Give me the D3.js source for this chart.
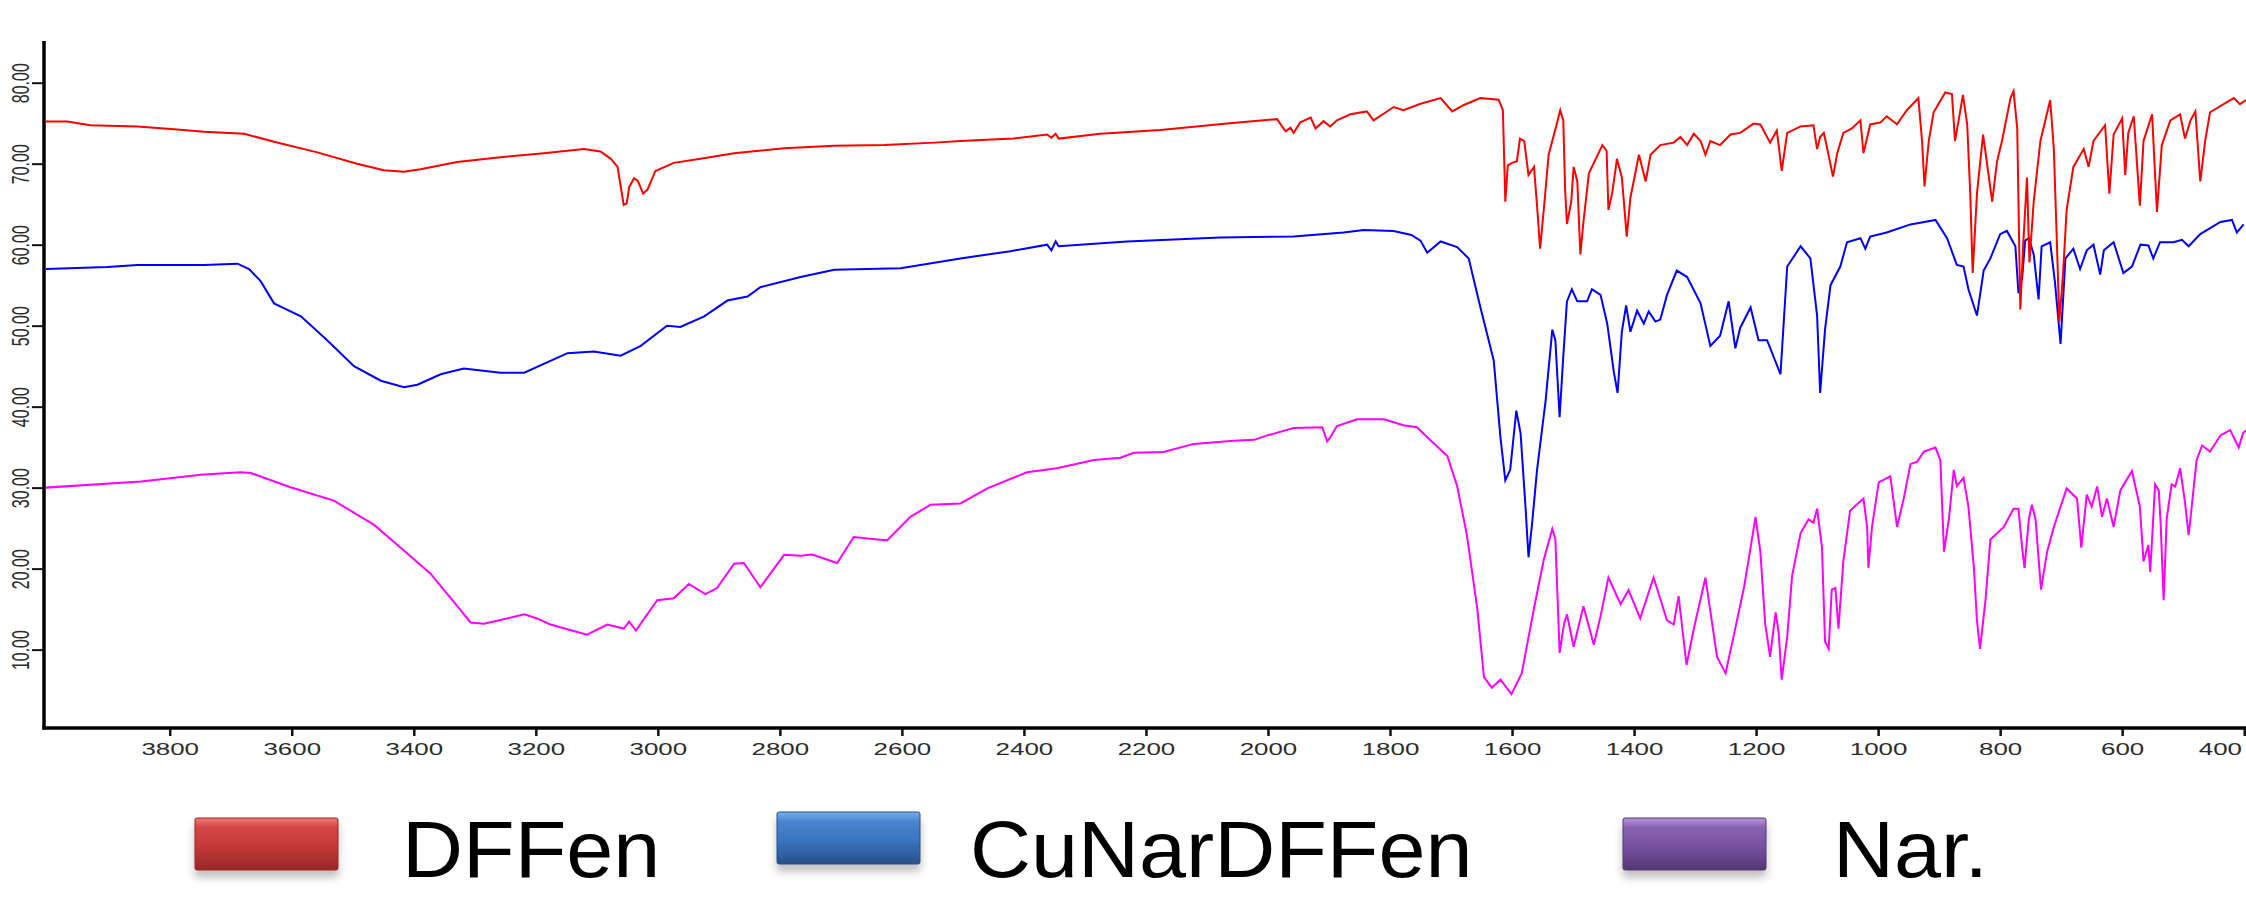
<!DOCTYPE html>
<html>
<head>
<meta charset="utf-8">
<script src="https://cdn.jsdelivr.net/npm/d3@7"></script>
<style>
  body { margin: 0; background: #fff; }
  svg { display: block; font-family: "Liberation Sans", Arial, sans-serif; }
</style>
</head>
<body>
<svg id="chart"></svg>
<script>
// series names + legend colours
var names = ["DFFen", "CuNarDFFen", "Nar."];
var lineColors = ["#ff0000", "#0000ff", "#ff00ff"];

var xTicks = [3800, 3600, 3400, 3200, 3000, 2800, 2600, 2400, 2200, 2000, 1800, 1600, 1400, 1200, 1000, 800, 600, 400];
var yTicks = [10, 20, 30, 40, 50, 60, 70, 80];

// DFFen (red)
var dffenWn = [4003,3968,3930,3853,3793,3744,3678,3629,3558,3493,3449,3416,3389,3329,3258,3187,3121,3094,3077,3066,3060,3056,3051,3047,3039,3033,3024,3017,3004,2974,2930,2875,2793,2711,2629,2547,2504,2417,2362,2355,2348,2343,2275,2176,2067,1985,1977,1971,1963,1958,1947,1930,1922,1909,1898,1887,1865,1838,1827,1810,1794,1778,1750,1717,1698,1679,1652,1622,1615,1611,1607,1600,1592,1587,1580,1573,1564,1559,1554,1548,1540,1526,1521,1516,1513,1510,1503,1499,1493,1488,1483,1474,1452,1445,1442,1436,1428,1420,1412,1406,1392,1381,1373,1357,1335,1324,1313,1302,1291,1283,1275,1259,1242,1226,1204,1193,1177,1166,1158,1149,1127,1106,1100,1095,1089,1084,1074,1067,1057,1043,1029,1024,1013,996,986,969,953,934,928,924,917,909,890,879,874,868,861,854,849,845,838,828,822,813,805,797,783,778,772,767,762,756,752,745,734,718,712,707,703,697,691,680,663,655,647,628,621,614,600,595,590,581,571,565,551,543,535,521,505,497,488,480,472,464,456,417,407,397];
var dffenT = [75.2,75.2,74.75,74.6,74.25,73.95,73.7,72.7,71.4,70.0,69.2,69.0,69.3,70.2,70.8,71.3,71.8,71.5,70.6,69.6,66.8,64.9,65.1,67.1,68.2,67.9,66.3,66.8,69.1,70.1,70.6,71.3,71.9,72.2,72.3,72.6,72.8,73.1,73.6,73.2,73.7,73.1,73.7,74.15,74.95,75.5,74.6,74.0,74.45,73.8,75.1,75.7,74.35,75.25,74.6,75.35,76.1,76.45,75.35,76.2,77.0,76.6,77.4,78.1,76.45,77.25,78.1,77.9,76.6,65.3,69.8,70.1,70.3,73.1,72.8,68.6,69.6,64.8,59.5,64.3,71.1,75.1,76.6,75.35,66.8,62.55,65.3,69.6,67.8,58.8,62.8,68.8,72.3,71.6,64.3,66.3,70.6,68.3,61.0,65.8,71.1,67.8,71.1,72.3,72.6,73.3,72.3,73.7,72.8,71.1,72.8,72.3,73.6,73.8,74.95,74.85,72.6,74.1,69.1,73.8,74.6,74.75,71.8,73.3,73.8,72.1,68.4,71.3,73.8,74.35,75.35,71.3,74.85,75.1,75.85,74.85,76.6,78.1,72.8,67.2,72.8,76.35,78.8,78.6,72.8,75.35,78.5,74.85,66.3,56.5,66.3,73.6,70.3,65.3,70.3,72.8,78.1,78.96,74.35,52.0,60.3,68.3,57.8,65.3,72.8,77.86,71.8,60.3,50.5,56.3,64.3,69.6,71.8,69.6,72.8,74.75,66.3,73.6,75.6,68.6,73.8,75.85,64.8,72.8,76.1,64.05,72.3,75.35,76.1,73.1,75.35,76.45,67.8,72.8,76.35,78.1,77.35,77.86];

// CuNarDFFen (blue)
var cuWn = [4003,3902,3853,3744,3689,3670,3651,3629,3585,3542,3498,3454,3416,3394,3356,3318,3258,3219,3148,3105,3061,3028,2985,2963,2924,2886,2853,2832,2766,2711,2602,2504,2422,2362,2355,2348,2343,2231,2078,1958,1876,1843,1794,1765,1750,1739,1717,1690,1671,1652,1630,1619,1611,1603,1593,1586,1578,1573,1567,1559,1545,1534,1529,1522,1516,1510,1502,1493,1477,1469,1455,1444,1433,1427,1420,1413,1406,1395,1384,1376,1365,1357,1346,1330,1313,1291,1275,1259,1245,1234,1226,1209,1196,1182,1160,1149,1127,1111,1100,1095,1087,1078,1062,1051,1029,1021,1013,986,947,931,906,887,871,860,852,838,827,816,800,789,775,770,764,759,753,745,737,732,718,710,701,693,680,669,658,647,636,630,614,598,584,570,557,549,538,516,502,491,472,439,420,412,401];
var cuT = [57.0,57.25,57.5,57.5,57.65,57.0,55.5,52.75,51.15,48.2,45.0,43.2,42.4,42.7,44.0,44.7,44.2,44.2,46.6,46.8,46.3,47.5,50.0,49.85,51.15,53.1,53.6,54.75,56.0,56.9,57.1,58.3,59.2,60.0,59.3,60.4,59.8,60.4,60.9,61.0,61.5,61.8,61.7,61.2,60.5,59.0,60.4,59.7,58.3,52.3,45.7,36.2,30.9,32.2,39.5,36.7,27.7,21.4,25.65,32.2,40.7,49.5,48.2,38.7,46.2,53.0,54.5,53.0,53.0,54.5,53.8,50.25,44.2,41.7,49.25,52.5,49.25,51.85,50.25,51.75,50.5,50.75,53.8,56.8,56.0,52.75,47.5,48.75,53.0,47.2,49.75,52.25,48.2,48.2,44.0,57.3,59.8,58.3,51.25,41.7,49.5,55.0,57.3,60.3,60.8,59.5,61.0,61.5,62.5,62.7,63.05,60.8,57.5,57.3,54.5,51.25,56.8,58.3,61.3,61.7,59.8,54.0,55.8,60.5,60.8,58.8,53.25,59.8,60.3,55.25,47.75,58.3,59.5,57.0,59.3,60.0,56.3,59.3,60.3,56.5,57.3,60.0,59.9,58.3,60.3,60.3,60.6,59.8,61.3,62.8,63.05,61.5,62.5];

// Nar. (magenta)
var narWn = [4003,3847,3749,3684,3667,3602,3531,3465,3411,3373,3334,3307,3285,3258,3219,3198,3176,3116,3083,3056,3047,3036,3001,2974,2949,2922,2903,2875,2859,2832,2793,2766,2747,2706,2679,2640,2624,2586,2553,2504,2460,2395,2346,2285,2242,2220,2171,2122,2056,2023,2001,1958,1911,1903,1898,1887,1854,1810,1778,1756,1728,1706,1690,1674,1657,1646,1633,1619,1601,1584,1564,1548,1534,1529,1522,1515,1510,1499,1483,1466,1455,1442,1422,1409,1390,1368,1346,1335,1327,1314,1302,1283,1264,1250,1237,1220,1209,1201,1193,1185,1177,1168,1163,1158,1149,1141,1127,1114,1106,1100,1092,1087,1081,1076,1070,1065,1057,1046,1024,1018,1016,1010,999,980,969,958,947,936,925,906,898,892,884,876,871,860,852,843,838,833,824,816,794,778,770,764,760,753,748,742,733,723,712,691,674,667,658,650,641,633,625,614,603,584,571,565,557,554,546,540,537,532,527,519,513,505,497,491,486,478,469,456,439,423,409,402,397];
var narT = [30.0,30.75,31.6,31.9,31.8,30.05,28.4,25.4,21.9,19.4,15.85,13.35,13.2,13.65,14.35,13.85,13.1,11.85,13.1,12.6,13.45,12.35,16.1,16.35,18.1,16.85,17.6,20.6,20.7,17.7,21.7,21.6,21.75,20.7,23.9,23.6,23.5,26.4,27.9,28.05,29.9,31.9,32.4,33.4,33.7,34.3,34.4,35.4,35.8,35.9,36.45,37.35,37.45,35.7,36.2,37.6,38.45,38.45,37.7,37.45,35.45,33.9,30.2,24.15,15.1,6.6,5.3,6.3,4.5,7.1,15.1,21.1,24.9,23.65,9.6,13.1,14.35,10.35,15.35,10.6,14.1,18.9,15.6,17.35,13.85,18.9,13.6,13.1,16.6,8.1,12.6,18.9,9.1,7.1,11.6,17.6,22.6,26.4,22.1,13.1,9.1,14.6,12.1,6.3,11.6,19.1,24.4,26.1,25.65,27.4,22.6,11.0,10.1,17.4,17.6,12.6,20.9,27.15,28.65,25.15,20.1,25.15,30.65,31.4,25.15,28.65,32.9,33.2,34.45,34.95,33.4,22.1,26.1,32.2,30.2,31.2,27.65,20.1,13.6,10.1,16.1,23.6,25.15,27.4,27.4,22.6,20.1,26.1,27.9,26.1,17.4,22.1,25.15,29.9,28.65,22.6,29.15,27.65,30.15,26.4,28.65,25.15,29.65,32.05,27.65,20.9,22.9,19.6,30.4,29.65,25.65,16.1,26.15,30.4,30.15,32.4,28.15,24.15,27.65,33.4,35.2,34.45,36.45,37.1,34.95,36.7,37.1];

class IrChart {
  constructor(_parent) {
    this.parent = _parent;
    this.init();
  }

  init() {
    let self = this;
    self.width = 2246;
    self.height = 910;

    var svg = d3.select('#' + self.parent)
      .attr("width", self.width)
      .attr("height", self.height);

    var axisX = 44, axisY = 728;

    var x = d3.scaleLinear().domain([4000, 400]).range([47.7, 2244.2]);
    var y = d3.scaleLinear().domain([0, 85]).range([730.6, 42.2]);

    // gradients for glossy legend boxes
    var defs = svg.append("defs");
    var gloss = [
      ["#ee7a74", "#d54744", "#c4393a", "#972725"],
      ["#78b0ec", "#4a86cf", "#3a74bf", "#28508a"],
      ["#bb97de", "#8863b0", "#7652a0", "#533672"]
    ];
    gloss.forEach(function(g, i) {
      var lg = defs.append("linearGradient").attr("id", "gl" + i)
        .attr("x1", 0).attr("y1", 0).attr("x2", 0).attr("y2", 1);
      lg.append("stop").attr("offset", "0%").attr("stop-color", g[0]);
      lg.append("stop").attr("offset", "18%").attr("stop-color", g[1]);
      lg.append("stop").attr("offset", "55%").attr("stop-color", g[2]);
      lg.append("stop").attr("offset", "100%").attr("stop-color", g[3]);
    });
    var f = defs.append("filter").attr("id", "shadow")
      .attr("x", "-20%").attr("y", "-20%").attr("width", "140%").attr("height", "160%");
    f.append("feDropShadow").attr("dx", 0).attr("dy", 7).attr("stdDeviation", 4)
      .attr("flood-color", "#000").attr("flood-opacity", 0.25);

    defs.append("clipPath").attr("id", "plotclip")
      .append("rect").attr("x", axisX + 2).attr("y", 30)
      .attr("width", self.width - axisX).attr("height", axisY - 31);

    // spectra (red drawn last, on top)
    var series = [
      {name: names[2], wn: narWn, t: narT, color: lineColors[2]},
      {name: names[1], wn: cuWn, t: cuT, color: lineColors[1]},
      {name: names[0], wn: dffenWn, t: dffenT, color: lineColors[0]}
    ];
    var line = d3.line()
      .x(function(d) { return x(d[0]); })
      .y(function(d) { return y(d[1]); });

    svg.append("g").attr("clip-path", "url(#plotclip)")
      .selectAll("path")
      .data(series)
      .enter()
      .append("path")
      .attr("fill", "none")
      .attr("stroke", function(d) { return d.color; })
      .attr("stroke-width", 2)
      .attr("stroke-linejoin", "miter")
      .attr("d", function(d) {
        return line(d.wn.map(function(w, i) { return [w, d.t[i]]; }));
      });

    // x axis
    var gx = svg.append("g").attr("transform", "translate(0," + axisY + ")")
      .call(d3.axisBottom(x).tickValues(xTicks).tickSize(8).tickSizeOuter(0).tickFormat(d3.format("d")));
    gx.select(".domain").remove();
    gx.selectAll(".tick line").attr("stroke", "#111").attr("stroke-width", 2.5);
    gx.selectAll(".tick text")
      .attr("fill", "#2b2b2b")
      .style("font-size", "16px")
      .attr("y", 16)
      .attr("x", function(d) { return d === 400 ? -15 : 0; })
      .attr("transform", "scale(1.62,1)");
    gx.append("line").attr("x1", axisX - 1.5).attr("x2", self.width)
      .attr("y1", 0).attr("y2", 0).attr("stroke", "#000").attr("stroke-width", 3.5);

    // y axis
    var gy = svg.append("g").attr("transform", "translate(" + axisX + ",0)")
      .call(d3.axisLeft(y).tickValues(yTicks).tickSize(12).tickSizeOuter(0).tickFormat(d3.format(".2f")));
    gy.select(".domain").attr("stroke", "#000").attr("stroke-width", 3.5)
      .attr("d", "M0," + 41 + "V" + (axisY + 1.5));
    gy.selectAll(".tick line").attr("stroke", "#111").attr("stroke-width", 2);
    gy.selectAll(".tick text")
      .attr("fill", "#2b2b2b")
      .style("font-size", "16px")
      .attr("x", 0).attr("dy", 0).attr("y", 0)
      .attr("text-anchor", "middle")
      .attr("transform", "translate(-15,0) scale(1.5,1) rotate(-90)");

    // legend
    var legX = [195, 777, 1623];
    var legY = [818, 812, 818];
    var textX = [402, 970, 1833];
    var sx = 1.07;
    var leg = svg.append("g").selectAll("g")
      .data(names)
      .enter()
      .append("g");
    leg.append("rect")
      .attr("x", function(d, i) { return legX[i]; })
      .attr("y", function(d, i) { return legY[i]; })
      .attr("width", 143).attr("height", 52)
      .attr("rx", 2)
      .attr("fill", function(d, i) { return "url(#gl" + i + ")"; })
      .attr("stroke", function(d, i) { return gloss[i][3]; })
      .attr("stroke-width", 1)
      .attr("filter", "url(#shadow)");
    leg.append("text")
      .attr("x", function(d, i) { return textX[i] / sx; })
      .attr("y", 877)
      .attr("transform", "scale(" + sx + ",1)")
      .style("font-size", "79px")
      .attr("fill", "#000")
      .text(function(d) { return d; });
  }
}

new IrChart("chart");
</script>
</body>
</html>
